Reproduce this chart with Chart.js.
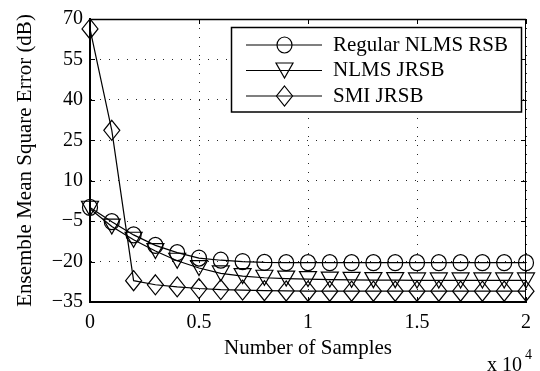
<!DOCTYPE html>
<html>
<head>
<meta charset="utf-8">
<script src="https://cdn.jsdelivr.net/npm/chart.js@4/dist/chart.umd.min.js"></script>
<style>
html,body{margin:0;padding:0;background:#fff;}
#wrap{width:540px;height:371px;position:relative;}
</style>
</head>
<body>
<div id="wrap"><canvas id="c"></canvas></div>
<script>
// ---- data ----
const samples = [0,1000,2000,3000,4000,5000,6000,7000,8000,9000,10000,11000,12000,13000,14000,15000,16000,17000,18000,19000,20000];
const regularNlmsRsb = [0.1,-5.2,-10.1,-14.0,-16.7,-18.7,-19.5,-20.0,-20.3,-20.4,-20.4,-20.4,-20.4,-20.4,-20.4,-20.4,-20.4,-20.4,-20.4,-20.4,-20.4];
const nlmsJrsb = [-0.4,-7.0,-11.9,-16.1,-19.7,-22.4,-24.4,-25.4,-26.0,-26.3,-26.5,-26.7,-26.8,-26.9,-26.9,-27.0,-27.0,-27.0,-27.0,-27.0,-27.0];
const smiJrsb = [66.3,28.7,-27.1,-28.6,-29.4,-30.0,-30.4,-30.6,-30.8,-30.9,-31.0,-31.0,-31.0,-31.0,-31.0,-31.0,-31.0,-31.0,-31.0,-31.0,-31.0];
const seriesNames = ['Regular NLMS RSB','NLMS JRSB','SMI JRSB'];
const markerTypes = ['circle','tri','diamond'];
const xTicks = [0,5000,10000,15000,20000];
const yTicks = [-35,-20,-5,10,25,40,55,70];

const FONT = '"Liberation Serif", "Times New Roman", serif';

function drawMarker(ctx, type, x, y) {
  ctx.beginPath();
  if (type === 'circle') {
    ctx.ellipse(x, y, 7.5, 8, 0, 0, Math.PI * 2);
  } else if (type === 'tri') {
    const w = 17, h = 15;
    ctx.moveTo(x - w / 2, y - h / 2); ctx.lineTo(x + w / 2, y - h / 2); ctx.lineTo(x, y + h / 2); ctx.closePath();
  } else {
    const w = 16, h = 20;
    ctx.moveTo(x, y - h / 2); ctx.lineTo(x + w / 2, y); ctx.lineTo(x, y + h / 2); ctx.lineTo(x - w / 2, y); ctx.closePath();
  }
  ctx.stroke();
}

function pts(arr) { return samples.map((s, i) => ({x: s, y: arr[i]})); }

const allSeries = [regularNlmsRsb, nlmsJrsb, smiJrsb];
const datasets = allSeries.map((arr, i) => ({
  label: seriesNames[i],
  data: pts(arr),
  borderColor: '#000',
  borderWidth: 1.2,
  pointRadius: 0,
  pointHoverRadius: 0,
  tension: 0,
  fill: false,
  clip: false
}));

const minus = v => (v < 0 ? '\u2212' + Math.abs(v) : String(v));

const markerPlugin = {
  id: 'markers',
  afterDatasetsDraw(chart) {
    const ctx = chart.ctx;
    ctx.save();
    ctx.strokeStyle = '#000';
    ctx.lineWidth = 1.2;
    chart.data.datasets.forEach((ds, i) => {
      const meta = chart.getDatasetMeta(i);
      meta.data.forEach(el => drawMarker(ctx, markerTypes[i], el.x, el.y));
    });
    ctx.restore();
  }
};

const framePlugin = {
  id: 'frame',
  afterDraw(chart) {
    const ctx = chart.ctx;
    const a = chart.chartArea;
    const xs = chart.scales.x, ys = chart.scales.y;
    ctx.save();
    ctx.strokeStyle = '#000';
    // top and right border
    ctx.lineWidth = 1.5;
    ctx.beginPath(); ctx.moveTo(a.left, a.top + 0.5); ctx.lineTo(a.right, a.top + 0.5); ctx.stroke();
    ctx.lineWidth = 1;
    ctx.beginPath(); ctx.moveTo(a.right - 0.5, a.top); ctx.lineTo(a.right - 0.5, a.bottom); ctx.stroke();
    // inward ticks
    const tl = 5;
    ctx.lineWidth = 1;
    xTicks.forEach(v => {
      const px = Math.round(xs.getPixelForValue(v)) + 0.5;
      ctx.beginPath(); ctx.moveTo(px, a.bottom); ctx.lineTo(px, a.bottom - tl); ctx.stroke();
      ctx.beginPath(); ctx.moveTo(px, a.top); ctx.lineTo(px, a.top + tl); ctx.stroke();
    });
    yTicks.forEach(v => {
      const py = Math.round(ys.getPixelForValue(v)) + 0.5;
      ctx.beginPath(); ctx.moveTo(a.left, py); ctx.lineTo(a.left + tl, py); ctx.stroke();
      ctx.beginPath(); ctx.moveTo(a.right, py); ctx.lineTo(a.right - tl, py); ctx.stroke();
    });
    // legend
    const bx = 231.5, by = 27.5, bw = 290, bh = 84.5;
    ctx.fillStyle = '#fff';
    ctx.fillRect(bx, by, bw, bh);
    ctx.lineWidth = 1.5;
    ctx.strokeRect(bx, by, bw, bh);
    const rows = [45, 70.5, 96];
    ctx.font = '21px ' + FONT;
    ctx.textBaseline = 'middle';
    ctx.textAlign = 'left';
    ctx.fillStyle = '#000';
    rows.forEach((ry, i) => {
      ctx.lineWidth = 1.2;
      ctx.beginPath(); ctx.moveTo(246, ry); ctx.lineTo(322, ry); ctx.stroke();
      drawMarker(ctx, markerTypes[i], 284.5, ry);
      ctx.fillText(seriesNames[i], 333, ry);
    });
    // exponent label
    ctx.textBaseline = 'alphabetic';
    ctx.font = '20px ' + FONT;
    ctx.fillText('x 10', 487, 371);
    ctx.font = '14px ' + FONT;
    ctx.fillText('4', 525, 359);
    ctx.restore();
  }
};

new Chart(document.getElementById('c'), {
  type: 'line',
  data: { datasets },
  options: {
    responsive: true,
    maintainAspectRatio: false,
    animation: false,
    events: [],
    layout: { padding: { top: 13, right: 6, left: 0, bottom: 0 } },
    plugins: { legend: { display: false }, tooltip: { enabled: false } },
    scales: {
      x: {
        type: 'linear',
        min: 0, max: 20000,
        afterFit: s => { s.height = 69; },
        afterBuildTicks: s => { s.ticks = xTicks.map(v => ({value: v})); },
        ticks: {
          color: '#000',
          font: { family: FONT, size: 20 },
          padding: 9,
          maxRotation: 0,
          callback: v => String(v / 10000)
        },
        grid: { color: 'rgba(0,0,0,0.85)', lineWidth: 1, drawTicks: false },
        border: { display: true, color: '#000', width: 2, dash: [1, 8] },
        title: {
          display: true, text: 'Number of Samples', color: '#000',
          font: { family: FONT, size: 21 }, padding: { top: 0, bottom: 10 }
        }
      },
      y: {
        type: 'linear',
        min: -35, max: 70,
        afterFit: s => { s.width = 90; },
        afterBuildTicks: s => { s.ticks = yTicks.map(v => ({value: v})); },
        ticks: {
          color: '#000',
          font: { family: FONT, size: 20 },
          padding: 7,
          callback: v => minus(v)
        },
        grid: { color: 'rgba(0,0,0,0.85)', lineWidth: 1, drawTicks: false },
        border: { display: true, color: '#000', width: 2, dash: [1, 8] },
        title: {
          display: true, text: 'Ensemble Mean Square Error (dB)', color: '#000',
          font: { family: FONT, size: 21 }, padding: { top: 13, bottom: 0 }
        }
      }
    }
  },
  plugins: [markerPlugin, framePlugin]
});
</script>
</body>
</html>
